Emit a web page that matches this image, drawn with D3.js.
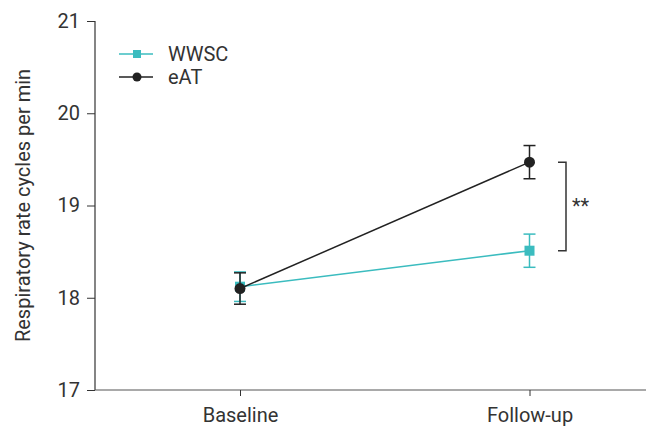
<!DOCTYPE html>
<html>
<head>
<meta charset="utf-8">
<script src="https://cdn.jsdelivr.net/npm/d3@7"></script>
<style>
body { margin: 0; background: #fff; }
text { font-family: Roboto, "Noto Sans", sans-serif; fill: #333; }
</style>
</head>
<body>
<svg></svg>
<script>
// data
var timepoints = ["Baseline", "Follow-up"]
var wwscMean = [18.12, 18.51]
var wwscErr = [0.16, 0.18]
var eatMean = [18.10, 19.47]
var eatErr = [0.17, 0.18]
var yTicks = [17, 18, 19, 20, 21]

var teal = "#3bbcbf"
var dark = "#222222"

var svg = d3.select('svg')
  .attr('width', 646)
  .attr('height', 429)

var x = d3.scalePoint()
  .domain(timepoints)
  .range([240, 529.5])

var y = d3.scaleLinear()
  .domain([17, 21])
  .range([390, 21])

// 坐标轴
var yAxis = d3.axisLeft(y).tickValues(yTicks).tickSize(8).tickPadding(7).tickFormat(d3.format("d"))
var gy = svg.append('g')
  .attr('transform', 'translate(95,0)')
  .call(yAxis)
gy.select('.domain').attr('stroke', '#333').attr('stroke-width', 1.2)
  .attr('d', 'M0,' + y(21) + 'V' + y(17))
gy.selectAll('.tick line').attr('stroke', '#333')
gy.selectAll('.tick text').style('font-size', '20px').attr('fill', '#333')

var xAxis = d3.axisBottom(x).tickSize(6).tickPadding(12)
var gx = svg.append('g')
  .attr('transform', 'translate(0,390)')
  .call(xAxis)
gx.select('.domain').attr('stroke', '#555').attr('stroke-width', 1.2)
  .attr('d', 'M95,0H646')
gx.selectAll('.tick line').attr('stroke', '#333')
gx.selectAll('.tick text').style('font-size', '20px').attr('fill', '#333')

svg.append('text')
  .attr('transform', 'translate(30,' + y(19) + ') rotate(-90)')
  .style('text-anchor', 'middle')
  .style('font-size', '20px')
  .text('Respiratory rate cycles per min')

// 系列
function drawSeries(means, errs, color, shape) {
  var pts = timepoints.map(function(t, i) { return { t: t, m: means[i], e: errs[i] } })
  svg.append('path')
    .datum(pts)
    .attr('fill', 'none')
    .attr('stroke', color)
    .attr('stroke-width', 1.5)
    .attr('d', d3.line().x(d => x(d.t)).y(d => y(d.m)))
  var g = svg.append('g').selectAll('g').data(pts).enter().append('g')
  g.append('line')
    .attr('x1', d => x(d.t)).attr('x2', d => x(d.t))
    .attr('y1', d => y(d.m + d.e)).attr('y2', d => y(d.m - d.e))
    .attr('stroke', color).attr('stroke-width', 1.5)
  g.append('line')
    .attr('x1', d => x(d.t) - 6).attr('x2', d => x(d.t) + 6)
    .attr('y1', d => y(d.m + d.e)).attr('y2', d => y(d.m + d.e))
    .attr('stroke', color).attr('stroke-width', 1.5)
  g.append('line')
    .attr('x1', d => x(d.t) - 6).attr('x2', d => x(d.t) + 6)
    .attr('y1', d => y(d.m - d.e)).attr('y2', d => y(d.m - d.e))
    .attr('stroke', color).attr('stroke-width', 1.5)
  if (shape == 'square') {
    g.append('rect')
      .attr('x', d => x(d.t) - 5).attr('y', d => y(d.m) - 5)
      .attr('width', 10).attr('height', 10)
      .attr('fill', color)
  } else {
    g.append('circle')
      .attr('cx', d => x(d.t)).attr('cy', d => y(d.m))
      .attr('r', 5.5)
      .attr('fill', color)
  }
}
drawSeries(wwscMean, wwscErr, teal, 'square')
drawSeries(eatMean, eatErr, dark, 'circle')

// 显著性括号
var bx = 558
svg.append('path')
  .attr('fill', 'none')
  .attr('stroke', '#333')
  .attr('stroke-width', 1.5)
  .attr('d', 'M' + bx + ',' + y(eatMean[1]) + 'H' + (bx + 8) + 'V' + y(wwscMean[1]) + 'H' + bx)
svg.append('text')
  .attr('x', 572)
  .attr('y', 213)
  .style('font-size', '20px')
  .text('**')

// 图例
var legend = [{ name: 'WWSC', color: teal, shape: 'square' }, { name: 'eAT', color: dark, shape: 'circle' }]
var lg = svg.append('g').selectAll('g').data(legend).enter().append('g')
  .attr('transform', (d, i) => 'translate(119,' + (54 + i * 23) + ')')
lg.append('line').attr('x1', 0).attr('x2', 34).attr('stroke', d => d.color).attr('stroke-width', 1.5)
lg.each(function(d) {
  if (d.shape == 'square') {
    d3.select(this).append('rect').attr('x', 14).attr('y', -4).attr('width', 8).attr('height', 8).attr('fill', d.color)
  } else {
    d3.select(this).append('circle').attr('cx', 18).attr('r', 4.5).attr('fill', d.color)
  }
})
lg.append('text').attr('x', 49).attr('dy', '0.35em').style('font-size', '20px').text(d => d.name)
</script>
</body>
</html>
